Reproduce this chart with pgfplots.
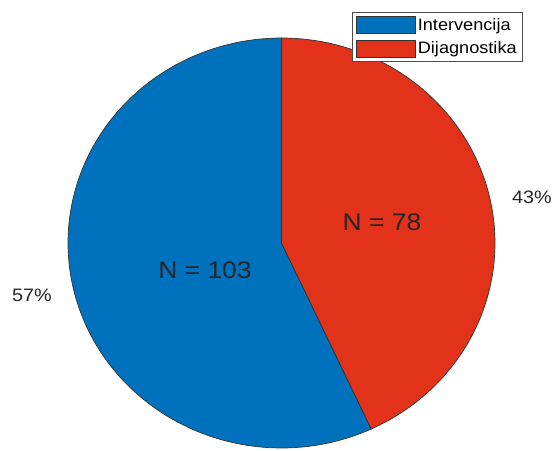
\documentclass[border=0pt]{standalone}
\usepackage{pgfplots}
\usepackage{pgfplotstable}
\pgfplotsset{compat=1.18}
\usepackage{fontspec}
\setmainfont[FakeStretch=1.1]{Liberation Sans}
\definecolor{pieBlue}{RGB}{0,114,189}
\definecolor{pieRed}{RGB}{226,50,26}
\pgfplotstableread{
label value
Intervencija 103
Dijagnostika 78
}\piedata
\pgfplotstablegetelem{0}{value}\of\piedata\let\vA\pgfplotsretval
\pgfplotstablegetelem{1}{value}\of\piedata\let\vB\pgfplotsretval
\pgfmathsetmacro{\fracB}{\vB/(\vA+\vB)}
\pgfmathsetmacro{\aMid}{90-360*\fracB}
\pgfmathsetmacro{\aEnd}{-270}
\begin{document}%
\begin{tikzpicture}[x=1pt,y=1pt]
\begin{axis}[
  at={(68pt,2pt)}, anchor=south west,
  scale only axis, width=427pt, height=410pt,
  xmin=-1, xmax=1, ymin=-1, ymax=1,
  hide axis, clip=false,
  legend style={at={(rel axis cs:1.0656,1.0634)}, anchor=north east,
    draw=black!70, line width=0.6pt, font=\fontsize{16.5}{19}\selectfont,
    inner xsep=4pt, inner ysep=4pt, row sep=6pt,
    /tikz/every even column/.append style={column sep=2pt}},
  legend cell align=left,
  legend image code/.code={\draw[#1, draw=black!80, line width=0.5pt] (0pt,-8.5pt) rectangle (59pt,8.5pt);},
]
\addplot[fill=pieBlue, draw=black!80, line width=0.7pt, domain=\aMid:\aEnd, samples=150, variable=\t]
  ({cos(t)},{sin(t)}) -- (axis cs:0,0) -- cycle;
\addlegendentry{Intervencija}
\addplot[fill=pieRed, draw=black!80, line width=0.7pt, domain=90:\aMid, samples=120, variable=\t]
  ({cos(t)},{sin(t)}) -- (axis cs:0,0) -- cycle;
\addlegendentry{Dijagnostika}
\end{axis}
\node[font=\fontsize{24}{28}\selectfont, text=black!85] at (205,180) {N = 103};
\node[font=\fontsize{24}{28}\selectfont, text=black!85] at (382,228) {N = 78};
\node[font=\fontsize{18}{21}\selectfont, text=black!85] at (32,155) {57\%};
\node[font=\fontsize{18}{21}\selectfont, text=black!85] at (532,253) {43\%};
\pgfresetboundingbox
\path[use as bounding box] (0,0) rectangle (554,450);
\end{tikzpicture}%
\end{document}
